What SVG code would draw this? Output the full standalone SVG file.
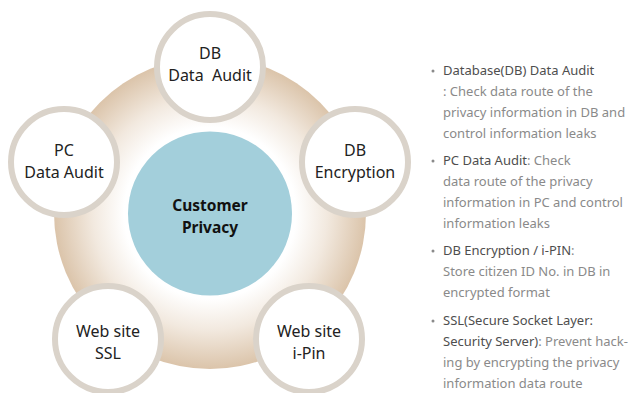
<svg xmlns="http://www.w3.org/2000/svg" width="628" height="393" viewBox="0 0 628 393">
<style>
.node circle{fill:#fff;stroke:#dad3ca;stroke-width:6}
.lbl{font-family:"Noto Sans","Open Sans",sans-serif;font-size:16px;fill:#222;text-anchor:middle}
.ctr{font-family:"Noto Sans","Open Sans",sans-serif;font-size:15.5px;font-weight:bold;fill:#111;text-anchor:middle}
.desc{font-family:"Noto Sans","Open Sans",sans-serif;font-size:13px;fill:#8a8a8a}
.desc .b{fill:#4e4e4e}
.bul{fill:#8a8a8a}
</style>
<defs>
<radialGradient id="bg" cx="210" cy="213" r="156" gradientUnits="userSpaceOnUse">
<stop offset="0" stop-color="#ffffff"/>
<stop offset="0.55" stop-color="#ffffff"/>
<stop offset="0.75" stop-color="#f2e9df"/>
<stop offset="1" stop-color="#dbc4aa"/>
</radialGradient>
</defs>
<circle id="ring" cx="210" cy="213" r="156" fill="url(#bg)"/>
<g id="connectors"/>
<g id="center" >
<circle cx="210" cy="213.5" r="82" fill="#a3cfdb"/>
<text class="ctr" x="210" y="211">Customer</text>
<text class="ctr" x="210" y="233">Privacy</text>
</g>
<g id="n-db-audit" class="node">
<circle cx="210" cy="67" r="53"/>
<text class="lbl" x="210" y="59">DB</text>
<text class="lbl" x="210" y="81" xml:space="preserve">Data  Audit</text>
</g>
<g id="n-pc-audit" class="node">
<circle cx="64" cy="162" r="53"/>
<text class="lbl" x="64" y="156">PC</text>
<text class="lbl" x="64" y="178">Data Audit</text>
</g>
<g id="n-db-enc" class="node">
<circle cx="355" cy="162" r="53"/>
<text class="lbl" x="355" y="156">DB</text>
<text class="lbl" x="355" y="178">Encryption</text>
</g>
<g id="n-ssl" class="node">
<circle cx="108" cy="339" r="53"/>
<text class="lbl" x="108" y="337">Web site</text>
<text class="lbl" x="108" y="359">SSL</text>
</g>
<g id="n-ipin" class="node">
<circle cx="309" cy="339" r="53"/>
<text class="lbl" x="309" y="337">Web site</text>
<text class="lbl" x="309" y="359">i-Pin</text>
</g>
<g id="legend" class="desc">
<circle class="bul" cx="433" cy="71" r="1.5"/>
<text x="443" y="75"><tspan class="b">Database(DB) Data Audit</tspan></text>
<text x="443" y="96">: Check data route of the</text>
<text x="443" y="117">privacy information in DB and</text>
<text x="443" y="138">control information leaks</text>
<circle class="bul" cx="433" cy="161" r="1.5"/>
<text x="443" y="165"><tspan class="b">PC Data Audit</tspan>: Check</text>
<text x="443" y="186">data route of the privacy</text>
<text x="443" y="207">information in PC and control</text>
<text x="443" y="228">information leaks</text>
<circle class="bul" cx="433" cy="251" r="1.5"/>
<text x="443" y="255"><tspan class="b">DB Encryption / i-PIN</tspan>:</text>
<text x="443" y="276">Store citizen ID No. in DB in</text>
<text x="443" y="297">encrypted format</text>
<circle class="bul" cx="433" cy="321" r="1.5"/>
<text x="443" y="325"><tspan class="b">SSL(Secure Socket Layer:</tspan></text>
<text x="443" y="346"><tspan class="b">Security Server)</tspan>: Prevent hack-</text>
<text x="443" y="367">ing by encrypting the privacy</text>
<text x="443" y="388">information data route</text>
</g>
</svg>
